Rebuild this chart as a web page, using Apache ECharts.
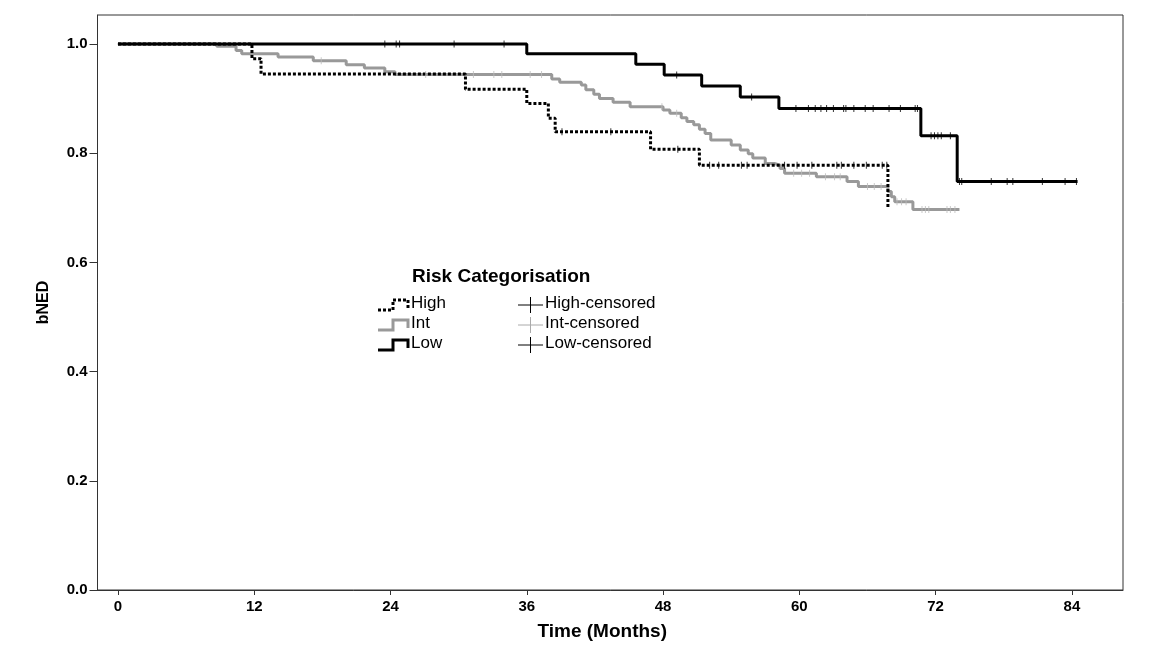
<!DOCTYPE html>
<html>
<head>
<meta charset="utf-8">
<script src="https://cdn.jsdelivr.net/npm/echarts@6/dist/echarts.min.js"></script>
<style>
html,body{margin:0;padding:0;background:#fff;}
#chart{width:1165px;height:648px;}
</style>
</head>
<body>
<div id="chart"></div>
<script>
// ---- data ----
const xTicks = [0, 12, 24, 36, 48, 60, 72, 84];
const yTicks = [0, 0.2, 0.4, 0.6, 0.8, 1.0];

const lowTimes = [0, 36.0, 45.6, 48.1, 51.4, 54.8, 58.2, 70.7, 73.9, 84.5];
const lowSurv  = [1, 0.982, 0.963, 0.943, 0.923, 0.903, 0.882, 0.832, 0.748, 0.748];
const lowCens  = [23.5, 24.5, 24.8, 29.6, 34.0, 49.2, 55.8, 59.7, 60.8, 61.4, 61.9, 62.4, 63.0, 63.9, 64.1,
                  64.8, 65.8, 66.5, 67.9, 68.9, 70.2, 70.4, 71.6, 71.9, 72.2, 72.5, 73.3, 74.1, 74.3,
                  76.9, 78.3, 78.8, 81.4, 83.4, 84.4];

const intTimes = [0, 8.7, 10.4, 10.9, 14.1, 17.2, 20.1, 21.7, 23.5, 24.4, 38.2, 38.9, 40.8, 41.2, 41.9, 42.4,
                  43.6, 45.1, 48.0, 48.6, 49.6, 50.1, 50.7, 51.2, 51.7, 52.2, 54.0, 54.8, 55.5, 55.9, 57.0,
                  57.8, 58.3, 58.7, 61.5, 64.2, 65.2, 67.8, 68.1, 68.4, 70.0, 74.1];
const intSurv  = [1, 0.996, 0.988, 0.982, 0.976, 0.969, 0.962, 0.956, 0.949, 0.944, 0.936, 0.930, 0.925, 0.916,
                  0.908, 0.900, 0.893, 0.885, 0.879, 0.873, 0.865, 0.858, 0.852, 0.844, 0.836, 0.824, 0.815,
                  0.806, 0.799, 0.791, 0.781, 0.778, 0.772, 0.763, 0.757, 0.748, 0.739, 0.730, 0.720, 0.711,
                  0.697, 0.697];
const intCens  = [17.9, 27.1, 31.3, 33.1, 33.8, 36.3, 37.3, 47.9, 49.2, 59.5, 60.2, 60.9, 62.3, 63.1, 63.6,
                  66.0, 66.6, 67.2, 68.6, 69.0, 69.4, 70.8, 71.1, 71.4, 73.0, 73.3, 73.7];

const highTimes = [0, 11.8, 12.6, 30.6, 36.0, 37.9, 38.5, 46.9, 51.2, 67.8];
const highSurv  = [1, 0.973, 0.945, 0.917, 0.891, 0.864, 0.839, 0.807, 0.778, 0.700];
const highCens  = [39.1, 43.4, 49.3, 52.1, 52.9, 54.9, 55.4, 58.7, 59.8, 61.1, 63.3, 63.7, 64.8, 65.9, 67.3, 67.7];

// ---- helpers ----
function pairs(ts, ss) { return ts.map((t, i) => [t, ss[i]]); }
function survAt(ts, ss, t) {
  let v = ss[0];
  for (let i = 0; i < ts.length; i++) { if (ts[i] <= t) v = ss[i]; }
  return v;
}
function censPts(cs, ts, ss) { return cs.map(c => [c, survAt(ts, ss, c)]); }

const FONT = "'Liberation Sans', Arial, sans-serif";
const chart = echarts.init(document.getElementById('chart'), null, {renderer: 'canvas'});

// legend geometry
const lgX = 378, rowY = [305, 325, 345];
function stepIcon(y) {
  return [[lgX, y + 5], [lgX + 15, y + 5], [lgX + 15, y - 5], [lgX + 30, y - 5], [lgX + 30, y + 3]];
}
function cross(y, color, w) {
  return [
    {type: 'line', shape: {x1: 518, y1: y, x2: 543, y2: y}, style: {stroke: color, lineWidth: w}},
    {type: 'line', shape: {x1: 530.5, y1: y - 8, x2: 530.5, y2: y + 8}, style: {stroke: color, lineWidth: w}}
  ];
}
const legendNames = ['High', 'Int', 'Low'];
const censNames = ['High-censored', 'Int-censored', 'Low-censored'];

const graphics = [
  {type: 'text', left: 412, top: 267, style: {text: 'Risk Categorisation', font: "bold 19px " + FONT, fill: '#000'}},
  {type: 'polyline', shape: {points: stepIcon(rowY[0])}, style: {stroke: '#000', lineWidth: 3, lineDash: [3, 2], fill: null}},
  {type: 'polyline', shape: {points: stepIcon(rowY[1])}, style: {stroke: '#999', lineWidth: 3, fill: null}},
  {type: 'polyline', shape: {points: stepIcon(rowY[2])}, style: {stroke: '#000', lineWidth: 3, fill: null}},
].concat(cross(rowY[0], '#000', 1), cross(rowY[1], '#aaa', 1), cross(rowY[2], '#000', 1));
legendNames.forEach((n, i) => graphics.push({type: 'text', left: 411, top: rowY[i] - 10,
  style: {text: n, font: "17px " + FONT, fill: '#000'}}));
censNames.forEach((n, i) => graphics.push({type: 'text', left: 545, top: rowY[i] - 10,
  style: {text: n, font: "17px " + FONT, fill: '#000'}}));

const option = {
  animation: false,
  backgroundColor: '#fff',
  grid: {left: 97.5, right: 42, top: 15, bottom: 58, show: true, borderColor: '#333', borderWidth: 1, containLabel: false},
  xAxis: {
    type: 'value', min: -1.8, max: 88.5,
    name: 'Time (Months)', nameLocation: 'middle', nameGap: 32,
    nameTextStyle: {fontFamily: FONT, fontWeight: 'bold', fontSize: 19, color: '#000', verticalAlign: 'top', padding: [0, 16, 0, 0]},
    axisLine: {show: true, onZero: false, lineStyle: {color: '#333', width: 1}},
    axisTick: {show: true, length: 5, customValues: xTicks, lineStyle: {color: '#333'}},
    axisLabel: {customValues: xTicks, margin: 9, fontFamily: FONT, fontWeight: 'bold', fontSize: 15, color: '#000'},
    splitLine: {show: false}
  },
  yAxis: {
    type: 'value', min: 0, max: 1.053,
    name: 'bNED', nameLocation: 'middle', nameGap: 46, nameRotate: 90,
    nameTextStyle: {fontFamily: FONT, fontWeight: 'bold', fontSize: 16, color: '#000'},
    axisLine: {show: true, onZero: false, lineStyle: {color: '#333', width: 1}},
    axisTick: {show: true, length: 8, customValues: yTicks, lineStyle: {color: '#333'}},
    axisLabel: {customValues: yTicks, margin: 10, fontFamily: FONT, fontWeight: 'bold', fontSize: 15, color: '#000',
      formatter: v => v.toFixed(1)},
    splitLine: {show: false}
  },
  series: [
    {name: 'Int', type: 'line', step: 'end', showSymbol: false, data: pairs(intTimes, intSurv),
     lineStyle: {color: '#999', width: 3}, z: 2},
    {name: 'High', type: 'line', step: 'end', showSymbol: false, data: pairs(highTimes, highSurv),
     lineStyle: {color: '#000', width: 3, type: [3, 2]}, z: 3},
    {name: 'Low', type: 'line', step: 'end', showSymbol: false, data: pairs(lowTimes, lowSurv),
     lineStyle: {color: '#000', width: 3}, z: 4},
    {name: 'Int-censored', type: 'scatter', symbol: 'rect', symbolSize: [1, 7], data: censPts(intCens, intTimes, intSurv),
     itemStyle: {color: '#bbb'}, z: 5},
    {name: 'High-censored', type: 'scatter', symbol: 'rect', symbolSize: [1, 7], data: censPts(highCens, highTimes, highSurv),
     itemStyle: {color: '#000'}, z: 5},
    {name: 'Low-censored', type: 'scatter', symbol: 'rect', symbolSize: [1, 7], data: censPts(lowCens, lowTimes, lowSurv),
     itemStyle: {color: '#000'}, z: 5}
  ],
  graphic: graphics
};
chart.setOption(option);
</script>
</body>
</html>
